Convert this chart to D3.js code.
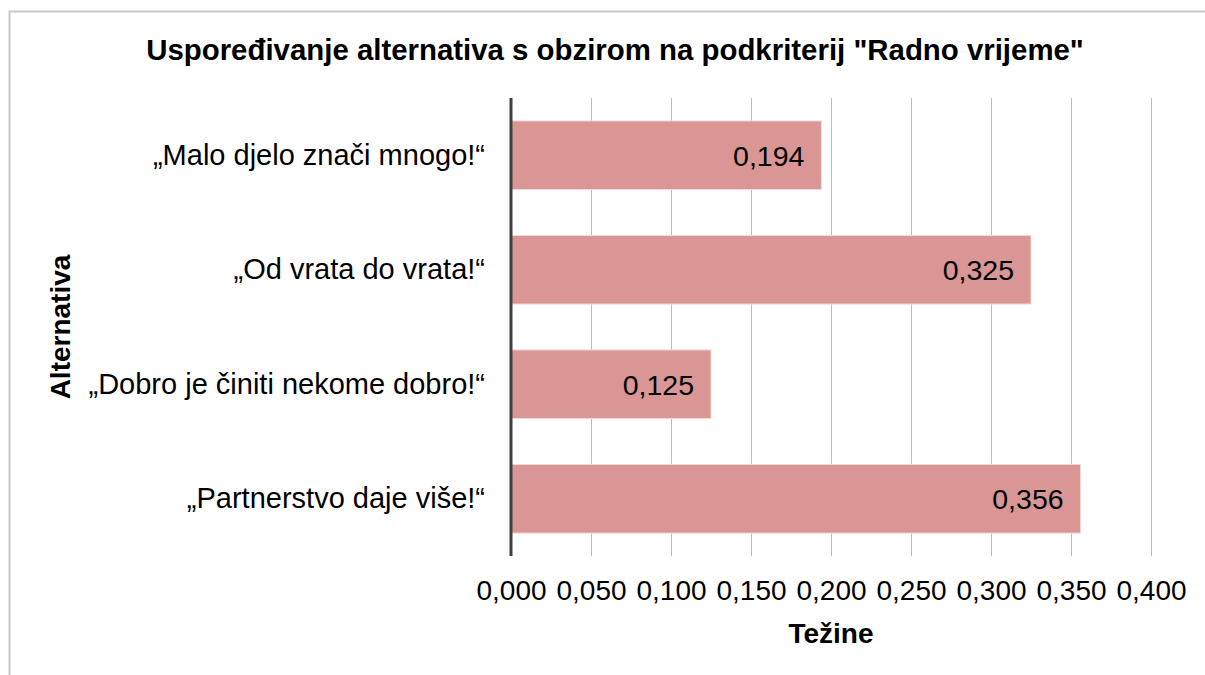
<!DOCTYPE html>
<html>
<head>
<meta charset="utf-8">
<script src="https://cdn.jsdelivr.net/npm/d3@7"></script>
<style>
  body { margin: 0; background: #fff; }
  text { font-family: "Liberation Sans", Arial, sans-serif; fill: #000; }
</style>
</head>
<body>
<svg id="chart" width="1205" height="675"></svg>
<script>
// values
var alternatives = ['„Malo djelo znači mnogo!“', '„Od vrata do vrata!“', '„Dobro je činiti nekome dobro!“', '„Partnerstvo daje više!“'];
var weights = [0.194, 0.325, 0.125, 0.356];
var tickValues = [0, 0.05, 0.1, 0.15, 0.2, 0.25, 0.3, 0.35, 0.4];

var titleText = 'Uspoređivanje alternativa s obzirom na podkriterij "Radno vrijeme"';
var xTitle = 'Težine';
var yTitle = 'Alternativa';

var svg = d3.select('#chart');

var plotLeft = 511, plotRight = 1151, plotTop = 98, plotBottom = 556;

// outer border
svg.append('path')
    .attr('d', 'M9.5,675 L9.5,11.5 L1205,11.5')
    .attr('fill', 'none')
    .attr('stroke', '#c8c8c8')
    .attr('stroke-width', 2);

var x = d3.scaleLinear().domain([0, 0.4]).range([plotLeft, plotRight]);
var y = d3.scaleBand().domain(alternatives).range([plotTop, plotBottom])
    .paddingInner(0.4).paddingOuter(0.2);

var fmt = function(d) { return d3.format('.3f')(d).replace('.', ','); };

// gridlines (go through the tick area too)
svg.append('g').selectAll('line')
    .data(tickValues.slice(1))
    .enter().append('line')
    .attr('x1', function(d) { return Math.round(x(d)) + 0.5; })
    .attr('x2', function(d) { return Math.round(x(d)) + 0.5; })
    .attr('y1', plotTop)
    .attr('y2', plotBottom)
    .attr('stroke', '#bcbcbc')
    .attr('stroke-width', 1);

// bars
svg.append('g').selectAll('rect')
    .data(weights)
    .enter().append('rect')
    .attr('x', plotLeft)
    .attr('y', function(d, i) { return y(alternatives[i]); })
    .attr('width', function(d) { return x(d) - plotLeft; })
    .attr('height', y.bandwidth())
    .attr('fill', '#d99694')
    .attr('stroke', '#f2dcdb')
    .attr('stroke-width', 1);

// value labels
svg.append('g').selectAll('text')
    .data(weights)
    .enter().append('text')
    .attr('x', function(d) { return x(d) - 17; })
    .attr('y', function(d, i) { return y(alternatives[i]) + y.bandwidth() / 2; })
    .attr('dy', '0.36em')
    .attr('text-anchor', 'end')
    .style('font-size', '28.5px')
    .text(fmt);

// x axis labels
var xAxis = svg.append('g')
    .attr('transform', 'translate(0,' + plotBottom + ')')
    .call(d3.axisBottom(x).tickValues(tickValues).tickFormat(fmt).tickSize(0).tickPadding(24));
xAxis.select('.domain').remove();
xAxis.selectAll('text')
    .style('font-size', '28px')
    .attr('fill', '#000');

// y axis labels
var yAxis = svg.append('g')
    .attr('transform', 'translate(' + plotLeft + ',0)')
    .call(d3.axisLeft(y).tickSize(0).tickPadding(26));
yAxis.select('.domain').remove();
yAxis.selectAll('text')
    .style('font-size', '29px')
    .attr('fill', '#000');

// dark value axis line
svg.append('line')
    .attr('x1', plotLeft).attr('x2', plotLeft)
    .attr('y1', plotTop).attr('y2', plotBottom)
    .attr('stroke', '#404040')
    .attr('stroke-width', 3);

// titles
svg.append('text')
    .attr('x', 615)
    .attr('y', 60)
    .attr('text-anchor', 'middle')
    .style('font-size', '29.4px')
    .style('font-weight', 'bold')
    .text(titleText);

svg.append('text')
    .attr('x', (plotLeft + plotRight) / 2)
    .attr('y', 643)
    .attr('text-anchor', 'middle')
    .style('font-size', '28px')
    .style('font-weight', 'bold')
    .text(xTitle);

svg.append('text')
    .attr('transform', 'translate(70,' + (plotTop + plotBottom) / 2 + ') rotate(-90)')
    .attr('text-anchor', 'middle')
    .style('font-size', '28px')
    .style('font-weight', 'bold')
    .text(yTitle);
</script>
</body>
</html>
